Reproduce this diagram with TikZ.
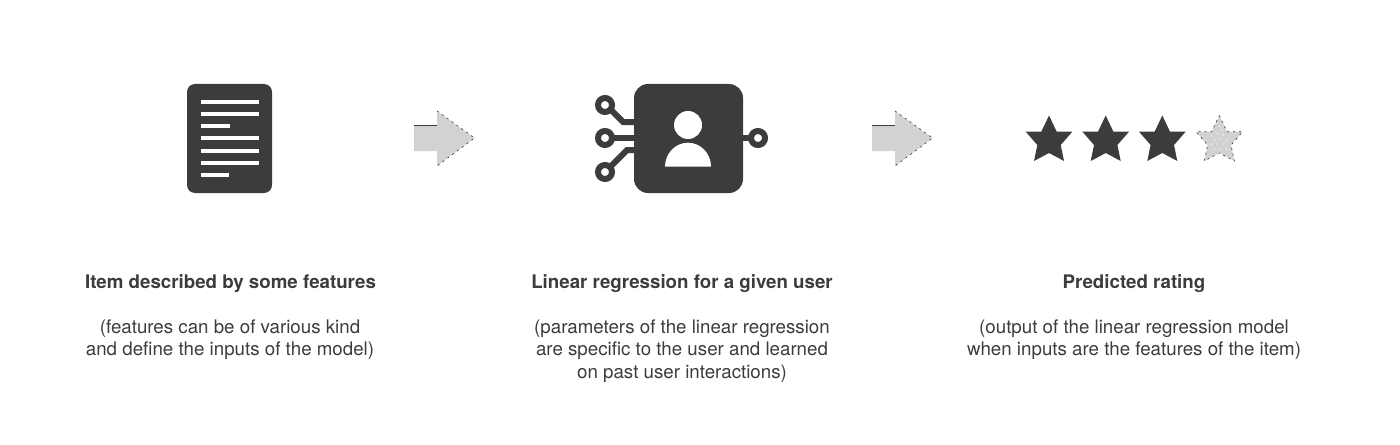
\documentclass[tikz,border=0pt]{standalone}
\usepackage{fontspec}
\setmainfont{TeX Gyre Heros}
\definecolor{dk}{HTML}{3C3C3C}
\definecolor{lg}{HTML}{D1D2D4}
\tikzset{x=0.5pt,y=-0.5pt,
 lbl/.style={align=center,text=dk,font=\fontsize{9.36pt}{11.1pt}\selectfont,inner sep=0pt,anchor=north},
 ttl/.style={align=center,text=dk,font=\fontsize{9.36pt}{11.1pt}\selectfont\bfseries,inner sep=0pt},
 trace/.style={draw=dk,line width=3pt,line join=miter},
 ring/.style={draw=dk,line width=3pt,fill=white},
 pics/starshape/.style={code={\path[#1] (0,-24.5)--(7.7,-8.3)--(23.3,-8.3)--(11.7,5)--(15,21)--(0,13)--(-15,21)--(-11.7,5)--(-23.3,-8.3)--(-7.7,-8.3)--cycle;}},
 pics/bigarrow/.style={code={
   \fill[lg] (0,-13)--(23,-13)--(23,-27)--(60.5,0)--(23,28)--(23,13)--(0,13)--cycle;
   \draw[dk,line width=0.5pt] (0,-13)--(23,-13);
   \draw[dk,line width=0.35pt,dash pattern=on 1pt off 2pt] (23,-27)--(60.5,0)--(23,28);}}
}
\begin{document}
\begin{tikzpicture}
\useasboundingbox (0,0) rectangle (1400,444);
% document icon
\fill[dk,rounded corners=4pt] (187,84) rectangle (272,193);
\foreach \y/\e in {101.7/259,113.7/259,126/230,138/259,150.7/259,162.7/259,175/229}
  \fill[white] (201,\y-2) rectangle (\e,\y+2);
% arrows
\pic at (414,138) {bigarrow};
\pic at (872,138) {bigarrow};
% model icon
\draw[trace] (608,107)--(623,122)--(640,122);
\draw[trace] (605,138)--(640,138);
\draw[trace] (610,167)--(627,150)--(640,150);
\draw[trace] (735,138)--(755,138);
\fill[dk,rounded corners=7pt] (634,84) rectangle (743,193);
\draw[ring] (605,105) circle[radius=7];
\draw[ring] (605,138) circle[radius=7];
\draw[ring] (605,172) circle[radius=7];
\draw[ring] (758,138) circle[radius=7];
\fill[white] (688,125) circle[radius=14];
\fill[white] (665,166.7) arc[start angle=180,end angle=360,x radius=23,y radius=24]--cycle;
% stars
\pic at (1049,140) {starshape={fill=dk}};
\pic at (1105.7,140) {starshape={fill=dk}};
\pic at (1162.3,140) {starshape={fill=dk}};
\pic at (1219.3,140) {starshape={fill=lg}};
\pic at (1219.3,140) {starshape={draw=dk,line width=0.35pt,dash pattern=on 1pt off 2pt}};
\foreach \px/\py in {-8/-4,-2/-6,4/-5,-5/0,1/-1,7/0,-8/5,-2/4,4/4,-5/9,1/9,7/9,-1/14,0/-14,2/-10}
  \fill[white] (1219.3+\px,140+\py) circle[radius=0.7];
% text
\node[ttl] (t1) at (230.5,284) {Item described by some features};
\node[ttl] (t2) at (682,284) {Linear regression for a given user};
\node[ttl] (t3) at (1134,284) {Predicted rating};
\node[lbl] (d1) at (230,319.5) {(features can be of various kind\\and define the inputs of the model)};
\node[lbl] (d2) at (682,319.5) {(parameters of the linear regression\\are specific to the user and learned\\on past user interactions)};
\node[lbl] (d3) at (1134,319.5) {(output of the linear regression model\\when inputs are the features of the item)};
\end{tikzpicture}
\end{document}
